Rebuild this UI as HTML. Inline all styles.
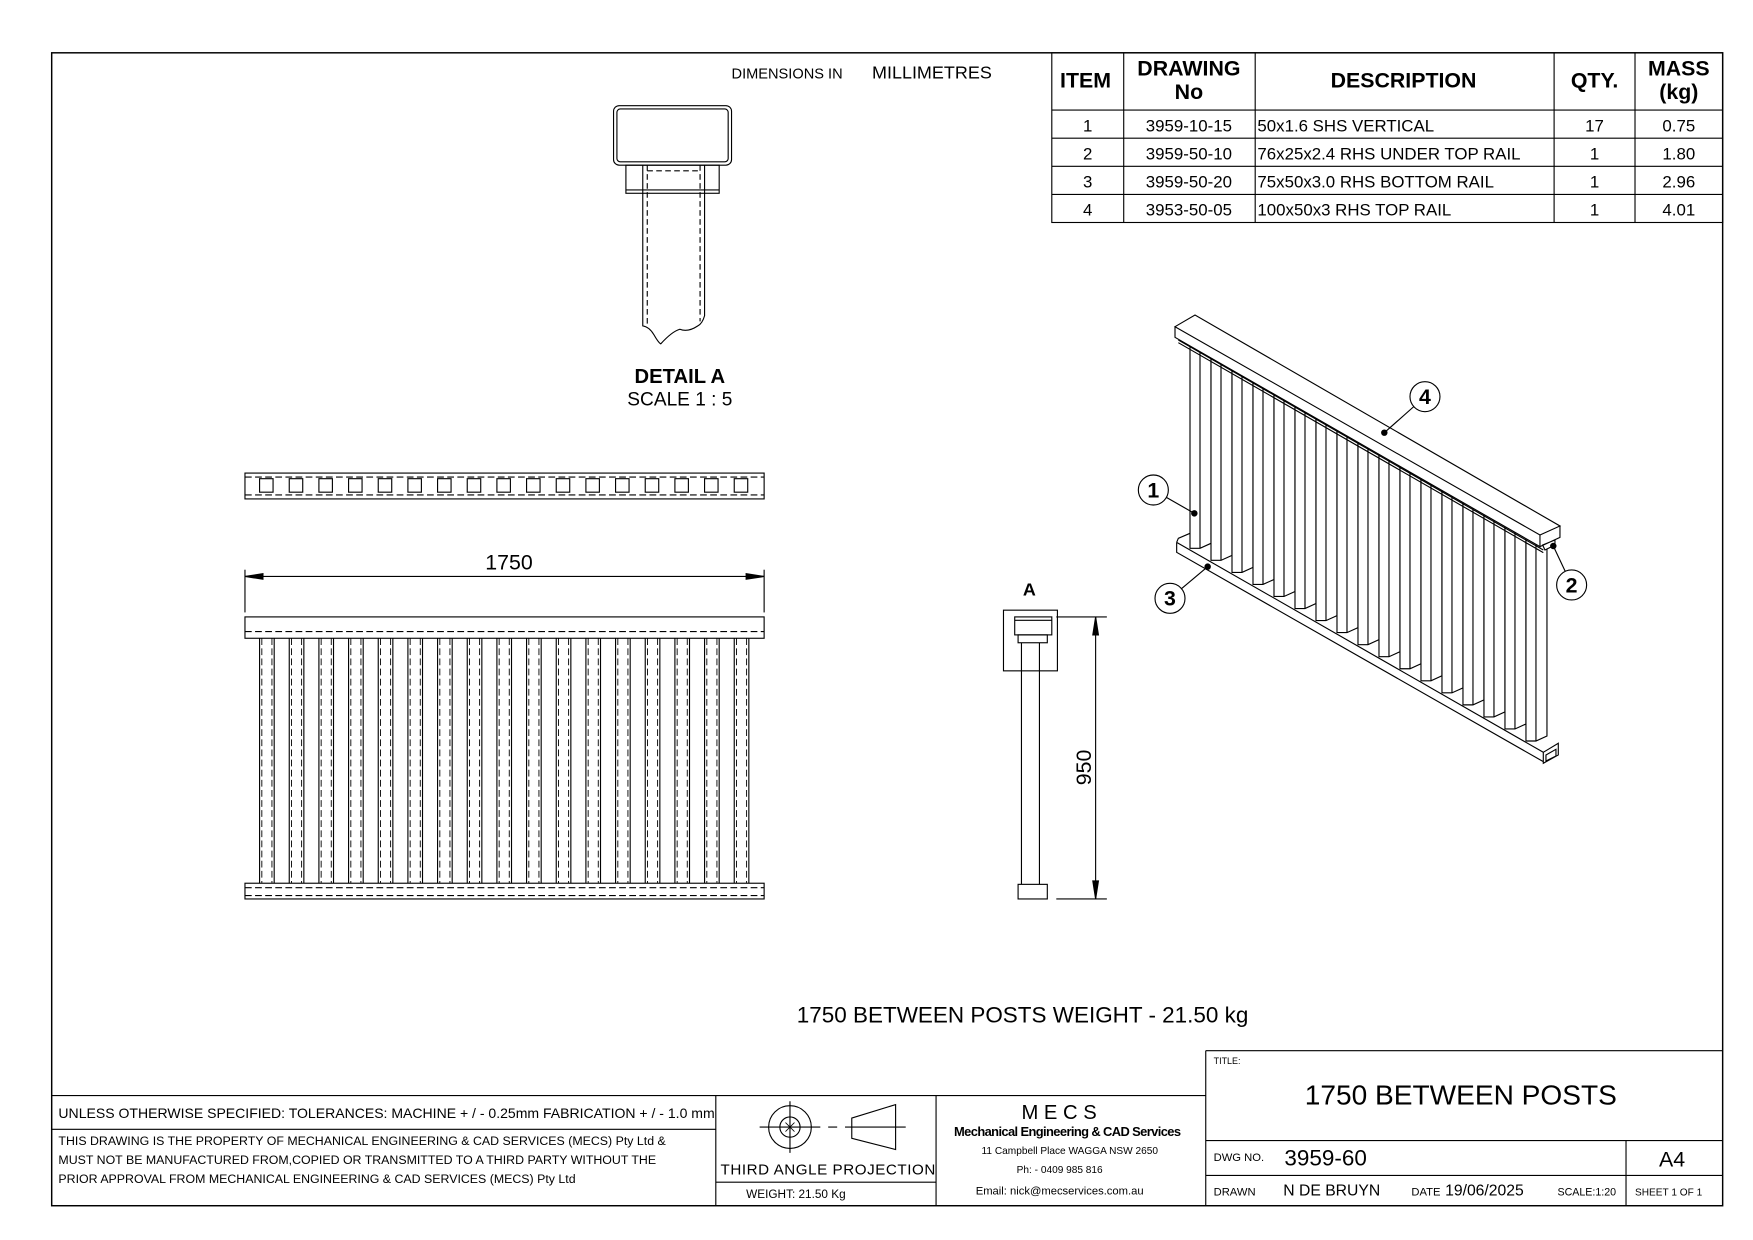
<!DOCTYPE html>
<html><head><meta charset="utf-8"><style>
html,body{margin:0;padding:0;background:#fff;width:1753px;height:1240px;overflow:hidden}
svg{display:block}
text{font-family:"Liberation Sans",sans-serif;fill:#000}
</style></head><body>
<svg id="s" width="1753" height="1240" viewBox="0 0 1560 1103.5" preserveAspectRatio="none" xmlns="http://www.w3.org/2000/svg">
<g fill="none" stroke="#000" stroke-width="1">
<rect x="46" y="47" width="1487" height="1026" stroke-width="1.3"/>
<rect x="936" y="47" width="597" height="151"/>
<line x1="936" y1="98" x2="1533" y2="98"/><line x1="936" y1="123" x2="1533" y2="123"/>
<line x1="936" y1="148" x2="1533" y2="148"/><line x1="936" y1="173" x2="1533" y2="173"/>
<line x1="1000" y1="47" x2="1000" y2="198"/><line x1="1117" y1="47" x2="1117" y2="198"/>
<line x1="1383" y1="47" x2="1383" y2="198"/><line x1="1455" y1="47" x2="1455" y2="198"/>
<rect x="546" y="94" width="105" height="53" rx="5"/>
<rect x="549" y="97" width="99" height="47" rx="3"/>
<rect x="557" y="147" width="83" height="25"/>
<line x1="557" y1="169" x2="640" y2="169"/>
<path d="M572 147 V290 Q578 291 582 298 Q586 305 588 306 Q598 295 605 293 Q612 296 621 290 Q625 288 627 281 V147"/>
<path d="M576 147 V289 M623 147 V286 M576 152 H623" stroke-dasharray="5 3"/>
<rect x="218" y="421" width="462" height="23"/>
<path d="M218 424.5 H680 M218 440.5 H680" stroke-dasharray="6 3"/>
<g id="sq"></g>
<line x1="218" y1="507" x2="218" y2="545"/><line x1="680" y1="507" x2="680" y2="545"/>
<line x1="218" y1="513" x2="680" y2="513"/>
<path d="M218 513 L234 510.5 V515.5Z M680 513 L664 510.5 V515.5Z" fill="#000"/>
<rect x="218" y="549" width="462" height="19"/>
<path d="M218 562 H680" stroke-dasharray="6 3"/>
<rect x="218" y="786" width="462" height="14"/>
<path d="M218 790 H680 M218 797 H680" stroke-dasharray="6 3"/>
<g id="fp"></g>
<rect x="893" y="543" width="48" height="54"/>
<rect x="903" y="549" width="33" height="16"/>
<line x1="903" y1="552" x2="936" y2="552"/>
<rect x="906" y="565" width="26" height="7"/>
<line x1="909" y1="572" x2="909" y2="787"/><line x1="925" y1="572" x2="925" y2="787"/>
<rect x="906" y="787" width="26" height="13"/>
<line x1="940" y1="549" x2="985" y2="549"/><line x1="940" y1="800" x2="985" y2="800"/>
<line x1="975" y1="549" x2="975" y2="800"/>
<path d="M975 549 L972.5 565 H977.5Z M975 800 L972.5 784 H977.5Z" fill="#000"/>
<line x1="46" y1="975" x2="1073" y2="975"/>
<line x1="46" y1="1005" x2="637" y2="1005"/>
<line x1="637" y1="975" x2="637" y2="1073"/><line x1="833" y1="975" x2="833" y2="1073"/>
<line x1="637" y1="1052" x2="833" y2="1052"/>
<line x1="1073" y1="935" x2="1533" y2="935"/><line x1="1073" y1="935" x2="1073" y2="1073"/>
<line x1="1073" y1="1015" x2="1533" y2="1015"/><line x1="1073" y1="1046" x2="1533" y2="1046"/>
<line x1="1447" y1="1015" x2="1447" y2="1073"/>
<circle cx="703" cy="1003" r="19"/><circle cx="703" cy="1003" r="9"/>
<path d="M703 980 V1026 M676 1003 H730 M737 1003 H745 M752 1003 H806"/>
<path d="M699 999 L707 1007 M707 999 L699 1007 M703 998 V1008" stroke-width="0.7"/>
<path d="M758 995 L797 983 V1023 L758 1013Z"/>
<g id="iso" transform="matrix(0.2966,0,0,0.2966,1005.6,267)" stroke-width="3.4"></g>
</g>
<text x="651" y="70" font-size="13">DIMENSIONS IN</text>
<text x="776" y="70" font-size="16">MILLIMETRES</text>
<g font-weight="bold" text-anchor="middle">
<text x="966" y="78" font-size="19">ITEM</text>
<text x="1058" y="67" font-size="19">DRAWING</text><text x="1058" y="88" font-size="19">No</text>
<text x="1249" y="78" font-size="19">DESCRIPTION</text>
<text x="1419" y="78" font-size="19">QTY.</text>
<text x="1494" y="67" font-size="19">MASS</text><text x="1494" y="88" font-size="19">(kg)</text>
</g>
<g font-size="15" text-anchor="middle">
<text x="968" y="117">1</text><text x="1058" y="117">3959-10-15</text><text x="1419" y="117">17</text><text x="1494" y="117">0.75</text>
<text x="968" y="142">2</text><text x="1058" y="142">3959-50-10</text><text x="1419" y="142">1</text><text x="1494" y="142">1.80</text>
<text x="968" y="167">3</text><text x="1058" y="167">3959-50-20</text><text x="1419" y="167">1</text><text x="1494" y="167">2.96</text>
<text x="968" y="192">4</text><text x="1058" y="192">3953-50-05</text><text x="1419" y="192">1</text><text x="1494" y="192">4.01</text>
</g>
<g font-size="15">
<text x="1119" y="117">50x1.6 SHS VERTICAL</text>
<text x="1119" y="142">76x25x2.4 RHS UNDER TOP RAIL</text>
<text x="1119" y="167">75x50x3.0 RHS BOTTOM RAIL</text>
<text x="1119" y="192">100x50x3 RHS TOP RAIL</text>
</g>
<text x="605" y="341" font-size="18" font-weight="bold" text-anchor="middle">DETAIL A</text>
<text x="605" y="361" font-size="17" text-anchor="middle">SCALE 1 : 5</text>
<text x="453" y="507" font-size="19" text-anchor="middle">1750</text>
<text x="916" y="530" font-size="16" font-weight="bold" text-anchor="middle">A</text>
<text x="0" y="0" font-size="19" text-anchor="middle" transform="translate(971,683) rotate(-90)">950</text>
<text x="910" y="910" font-size="20" text-anchor="middle">1750 BETWEEN POSTS WEIGHT - 21.50 kg</text>
<text x="52" y="995" font-size="12.5">UNLESS OTHERWISE SPECIFIED: TOLERANCES: MACHINE + / - 0.25mm  FABRICATION + / - 1.0 mm</text>
<text x="52" y="1019" font-size="11">THIS DRAWING IS THE PROPERTY OF MECHANICAL ENGINEERING &amp; CAD SERVICES (MECS) Pty Ltd &amp;</text>
<text x="52" y="1036" font-size="11">MUST NOT BE MANUFACTURED FROM,COPIED OR TRANSMITTED TO A THIRD PARTY WITHOUT THE</text>
<text x="52" y="1053" font-size="11">PRIOR APPROVAL FROM MECHANICAL ENGINEERING &amp; CAD SERVICES (MECS) Pty Ltd</text>
<text x="737" y="1045" font-size="13.5" text-anchor="middle" letter-spacing="0.5">THIRD ANGLE PROJECTION</text>
<text x="664" y="1066" font-size="10.5">WEIGHT:  21.50 Kg</text>
<text x="945" y="996" font-size="18" text-anchor="middle" letter-spacing="5">MECS</text>
<text x="950" y="1011" font-size="11.5" text-anchor="middle" font-weight="bold" textLength="202">Mechanical Engineering &amp; CAD Services</text>
<text x="952" y="1027" font-size="9" text-anchor="middle">11 Campbell Place WAGGA NSW 2650</text>
<text x="943" y="1044" font-size="9" text-anchor="middle">Ph: - 0409 985 816</text>
<text x="943" y="1063" font-size="10" text-anchor="middle">Email: nick@mecservices.com.au</text>
<text x="1080" y="947" font-size="8">TITLE:</text>
<text x="1300" y="983" font-size="25" text-anchor="middle">1750 BETWEEN POSTS</text>
<text x="1080" y="1033" font-size="10">DWG NO.</text>
<text x="1143" y="1037" font-size="20">3959-60</text>
<text x="1488" y="1038" font-size="19" text-anchor="middle">A4</text>
<text x="1080" y="1064" font-size="10">DRAWN</text>
<text x="1142" y="1064" font-size="14">N DE BRUYN</text>
<text x="1256" y="1064" font-size="10">DATE</text>
<text x="1286" y="1064" font-size="14">19/06/2025</text>
<text x="1386" y="1064" font-size="9.5">SCALE:1:20</text>
<text x="1455" y="1064" font-size="9">SHEET 1 OF 1</text>
</svg>
<script>
(function(){
var NS="http://www.w3.org/2000/svg";
function el(p,t,a){var e=document.createElementNS(NS,t);for(var k in a)e.setAttribute(k,a[k]);p.appendChild(e);return e;}
var sq=document.getElementById('sq');
for(var i=0;i<17;i++){el(sq,'rect',{x:(231+26.4*i).toFixed(1),y:426,width:12,height:12});}
var fp=document.getElementById('fp');
for(var i=0;i<17;i++){var x=231+26.4*i;
el(fp,'path',{d:'M'+x+' 568 V786 M'+(x+13)+' 568 V786'});
el(fp,'path',{d:'M'+(x+2)+' 568 V786 M'+(x+11)+' 568 V786','stroke-dasharray':'6 3','stroke-width':'0.8'});}
var iso=document.getElementById('iso');
var s=0.5735;
el(iso,'path',{d:'M140 727 L145 715 L180 700 M140 727 V757 L1240 1385 M140 727 L1240 1357 M1240 1357 L1285 1330 V1365 L1240 1390 Z M1240 1357 V1390 M1248 1365 L1278 1348 V1368 L1248 1383Z'});
for(var i=0;i<17;i++){var x=180+63*i;var ptop=150+s*(x-180)-8;var pbot=745+s*(x-180);
el(iso,'path',{d:'M'+x+' '+(ptop-4)+' V'+pbot+' L'+(x+30)+' '+pbot+' L'+(x+63)+' '+(pbot-15)+' V'+(ptop+14)+' M'+(x+30)+' '+(ptop+10)+' V'+pbot,fill:'#fff'});}
el(iso,'path',{d:'M145 120 L1240 750 M145 128 L1240 758'});
el(iso,'path',{d:'M135 80 L195 45 L1290 678 L1230 705 Z M135 80 V112 L1230 740 V705 M1230 740 L1290 712 V678 M1238 735 L1275 720 V735 L1245 750Z',fill:'#fff'});
function bal(cx,cy,t,dx,dy){var L=Math.hypot(dx-cx,dy-cy);el(iso,'line',{x1:dx,y1:dy,x2:cx+(dx-cx)*45/L,y2:cy+(dy-cy)*45/L});
el(iso,'circle',{cx:cx,cy:cy,r:45,fill:'#fff'});el(iso,'circle',{cx:dx,cy:dy,r:8,fill:'#000'});
var tx=el(iso,'text',{x:cx,y:cy+22,'font-size':'64','font-weight':'bold','text-anchor':'middle',stroke:'none'});tx.textContent=t;}
bal(885,290,'4',763,398);bal(70,570,'1',193,640);bal(120,895,'3',233,800);bal(1325,855,'2',1270,738);
})();
</script>
</body></html>
